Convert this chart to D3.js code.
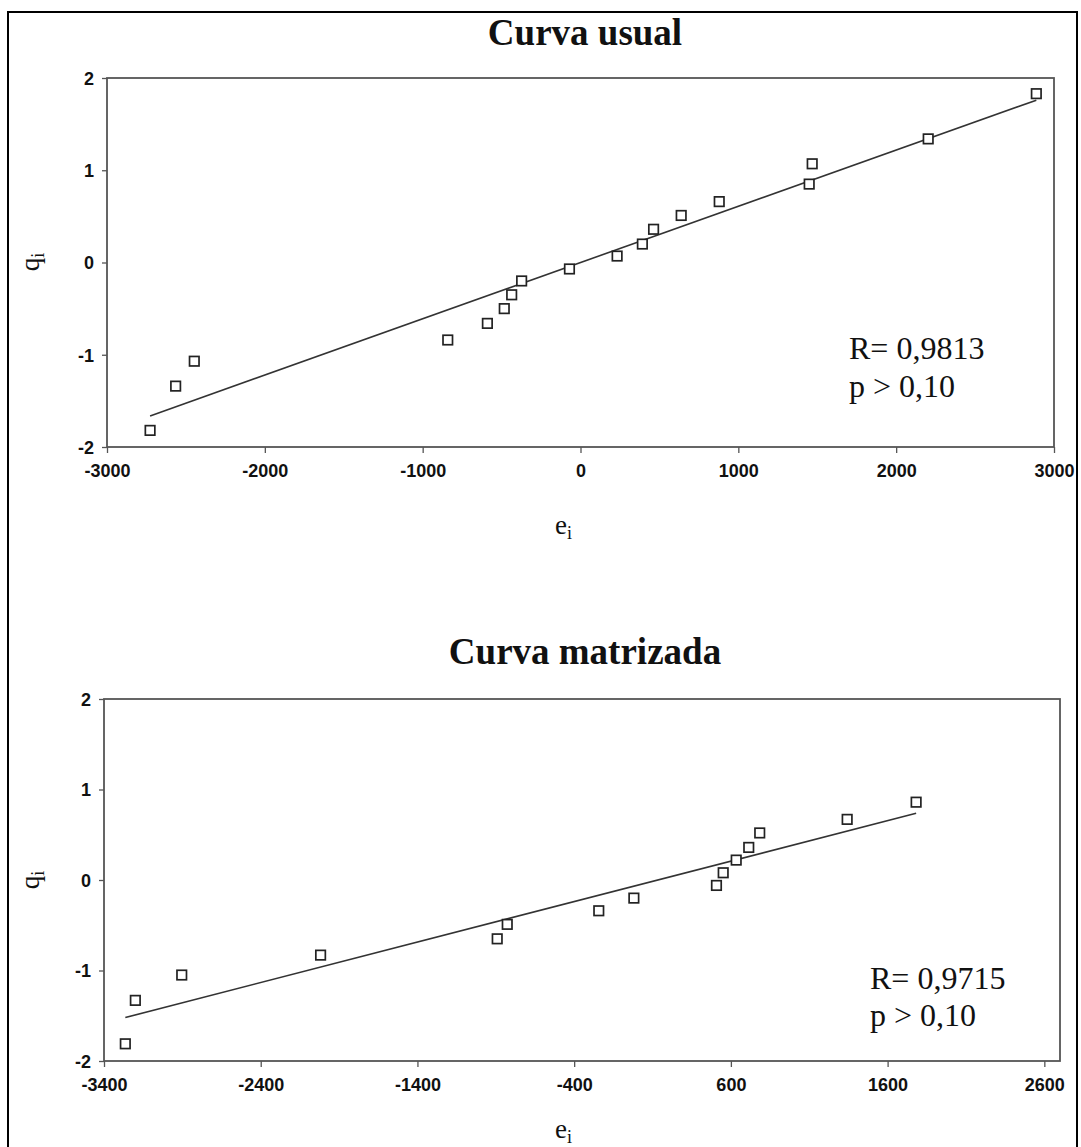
<!DOCTYPE html>
<html>
<head>
<meta charset="utf-8">
<script src="https://cdn.jsdelivr.net/npm/d3@7"></script>
<style>
  html, body { margin: 0; padding: 0; background: #fff; }
  svg { display: block; }
</style>
</head>
<body>
<svg id="chart" width="1081" height="1147"></svg>
<script>
// Residuals e_i against normal quantiles q_i for the usual curve
const usualE = [-2727, -2565, -2447, -841, -590, -483, -436, -373, -70,
                232, 392, 463, 638, 879, 1449, 1468, 2203, 2888];
const usualQ = [-1.82, -1.34, -1.07, -0.84, -0.66, -0.50, -0.35, -0.20, -0.07,
                0.07, 0.20, 0.36, 0.51, 0.66, 0.85, 1.07, 1.34, 1.83];

// Residuals e_i against normal quantiles q_i for the matrix-matched curve
const matrizE = [-3264, -3200, -2904, -2018, -891, -827, -243, -19,
                 508, 551, 634, 714, 784, 1342, 1782];
const matrizQ = [-1.81, -1.33, -1.05, -0.83, -0.65, -0.49, -0.34, -0.20,
                 -0.06, 0.08, 0.22, 0.36, 0.52, 0.67, 0.86];

const usualTicksX = [-3000, -2000, -1000, 0, 1000, 2000, 3000];
const matrizTicksX = [-3400, -2400, -1400, -400, 600, 1600, 2600];
const ticksY = [-2, -1, 0, 1, 2];

const titles = ["Curva usual", "Curva matrizada"];
const statsUsual = ["R= 0,9813", "p > 0,10"];
const statsMatriz = ["R= 0,9715", "p > 0,10"];

const svg = d3.select("#chart");

// outer frame around both panels
svg.append("rect")
  .attr("x", 8).attr("y", 12)
  .attr("width", 1069).attr("height", 1160)
  .attr("fill", "none").attr("stroke", "#000").attr("stroke-width", 2);

// ordinary least squares fit of q on e
function fit(xs, ys) {
  const mx = d3.mean(xs), my = d3.mean(ys);
  let sxy = 0, sxx = 0;
  xs.forEach((x, i) => { sxy += (x - mx) * (ys[i] - my); sxx += (x - mx) * (x - mx); });
  const b = sxy / sxx;
  return x => my + b * (x - mx);
}

function panel(cfg) {
  const { left, right, top, bottom, xDomain, xTicks, es, qs, title, titleY, stats, statsX, statsY, labelY, eLabelX, eLabelY } = cfg;
  const x = d3.scaleLinear().domain(xDomain).range([left, right]);
  const y = d3.scaleLinear().domain([-2, 2]).range([bottom, top]);
  const g = svg.append("g");

  // title
  g.append("text")
    .attr("x", 585).attr("y", titleY)
    .attr("text-anchor", "middle")
    .attr("font-family", "'Liberation Serif', 'Times New Roman', serif")
    .attr("font-weight", "bold")
    .attr("font-size", 37)
    .attr("fill", "#111")
    .text(title);

  // axes
  const ax = g.append("g").attr("transform", `translate(0,${bottom})`)
    .call(d3.axisBottom(x).tickValues(xTicks).tickSize(6).tickSizeOuter(0).tickFormat(d => String(d)));
  const ay = g.append("g").attr("transform", `translate(${left},0)`)
    .call(d3.axisLeft(y).tickValues(ticksY).tickSize(5).tickSizeOuter(0).tickFormat(d => String(d)));
  [ax, ay].forEach(a => {
    a.select(".domain").remove();
    a.selectAll(".tick line").attr("stroke", "#555").attr("stroke-width", 1.3);
    a.selectAll(".tick text")
      .attr("font-family", "'Liberation Sans', Arial, sans-serif")
      .attr("font-weight", "bold")
      .attr("font-size", 18)
      .attr("fill", "#111");
  });
  ax.selectAll(".tick text").attr("dy", "1.15em");
  ay.selectAll(".tick text").attr("x", -13).attr("dy", "0.36em");

  // plot frame
  g.append("rect")
    .attr("x", left).attr("y", top)
    .attr("width", right - left).attr("height", bottom - top)
    .attr("fill", "none").attr("stroke", "#555").attr("stroke-width", 1.8);

  // fitted line over the range of the residuals
  const f = fit(es, qs);
  const [e0, e1] = d3.extent(es);
  g.append("line")
    .attr("x1", x(e0)).attr("y1", y(f(e0)))
    .attr("x2", x(e1)).attr("y2", y(f(e1)))
    .attr("stroke", "#333").attr("stroke-width", 1.6);

  // points as open squares
  const s = 9.5;
  g.selectAll("rect.pt").data(es.map((e, i) => [e, qs[i]])).join("rect")
    .attr("class", "pt")
    .attr("x", d => x(d[0]) - s / 2).attr("y", d => y(d[1]) - s / 2)
    .attr("width", s).attr("height", s)
    .attr("fill", "#fff").attr("stroke", "#222").attr("stroke-width", 1.7);

  // statistics annotation
  const st = g.append("text")
    .attr("font-family", "'Liberation Serif', 'Times New Roman', serif")
    .attr("font-size", 32).attr("fill", "#111");
  st.append("tspan").attr("x", statsX).attr("y", statsY[0]).text(stats[0]);
  st.append("tspan").attr("x", statsX).attr("y", statsY[1]).text(stats[1]);

  // y-axis label q_i
  const qt = g.append("text")
    .attr("transform", `translate(39,${labelY}) rotate(-90)`)
    .attr("text-anchor", "middle")
    .attr("font-family", "'Liberation Serif', 'Times New Roman', serif")
    .attr("font-size", 27).attr("fill", "#111");
  qt.append("tspan").text("q");
  qt.append("tspan").attr("font-size", 18).attr("dy", 5).text("i");

  // x-axis label e_i
  const et = g.append("text")
    .attr("x", eLabelX).attr("y", eLabelY)
    .attr("font-family", "'Liberation Serif', 'Times New Roman', serif")
    .attr("font-size", 27).attr("fill", "#111");
  et.append("tspan").text("e");
  et.append("tspan").attr("font-size", 18).attr("dy", 5).text("i");
}

panel({
  left: 107, right: 1054, top: 78, bottom: 447,
  xDomain: [-3000, 3000], xTicks: usualTicksX,
  es: usualE, qs: usualQ,
  title: titles[0], titleY: 45,
  stats: statsUsual, statsX: 849, statsY: [359, 397],
  labelY: 262, eLabelX: 555, eLabelY: 534
});

panel({
  left: 104, right: 1060, top: 699, bottom: 1061,
  xDomain: [-3400, 2700], xTicks: matrizTicksX,
  es: matrizE, qs: matrizQ,
  title: titles[1], titleY: 664,
  stats: statsMatriz, statsX: 870, statsY: [989, 1026],
  labelY: 880, eLabelX: 555, eLabelY: 1138
});
</script>
</body>
</html>
